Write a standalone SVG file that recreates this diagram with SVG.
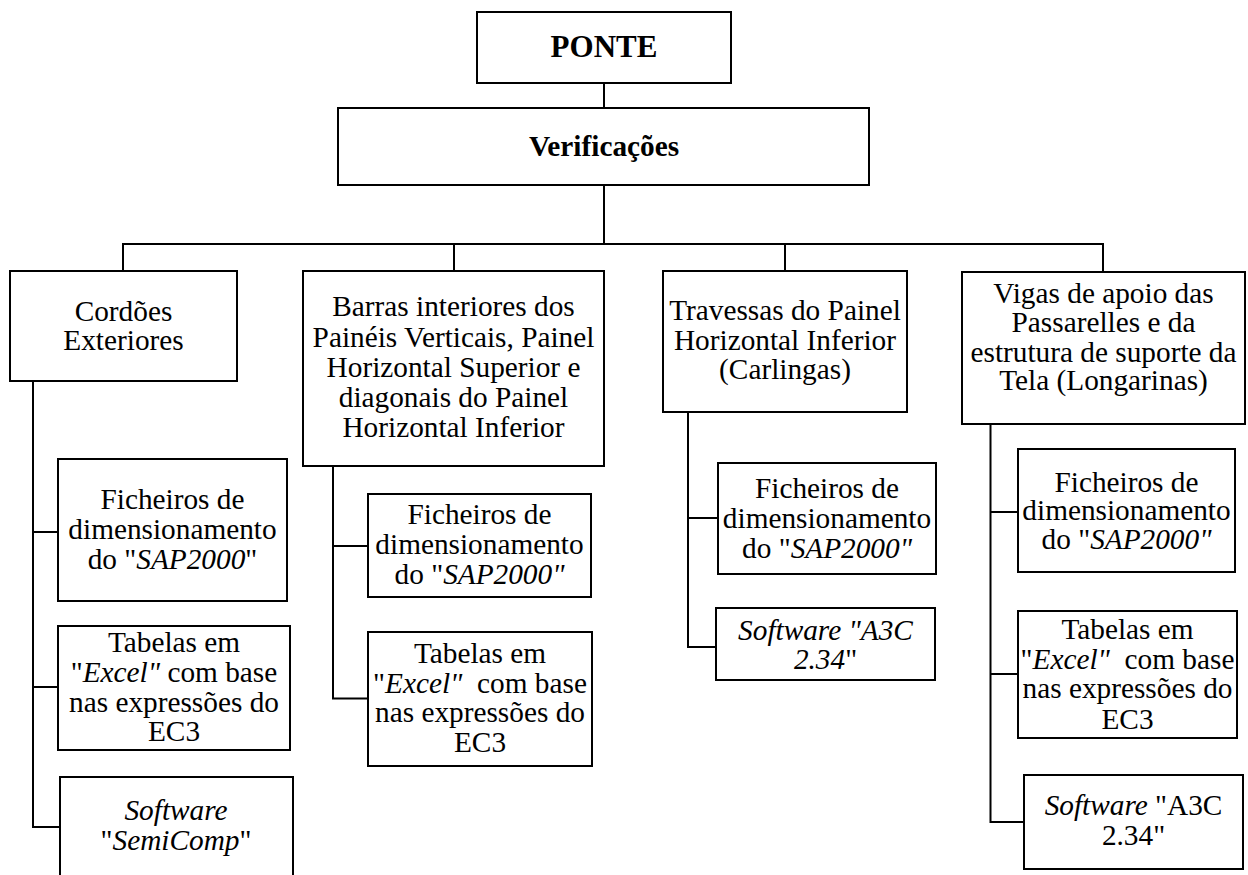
<svg xmlns="http://www.w3.org/2000/svg" width="1248" height="875" viewBox="0 0 1248 875">
<style>
rect.box{fill:#fff;stroke:#000;stroke-width:2}
.conn line,.conn polyline{stroke:#000;stroke-width:2;fill:none}
text{font-size:29.3px;fill:#000;text-anchor:middle}
text.b{font-weight:bold}
.i{font-style:italic}
</style>
<rect width="1248" height="875" fill="#fff"/>
<g class="conn" id="connectors">
<line x1="604" y1="83" x2="604" y2="108"/>
<line x1="604" y1="185" x2="604" y2="244"/>
<line x1="122" y1="244" x2="1104" y2="244"/>
<line x1="123" y1="244" x2="123" y2="271"/>
<line x1="454" y1="244" x2="454" y2="271"/>
<line x1="785" y1="244" x2="785" y2="271"/>
<line x1="1103" y1="244" x2="1103" y2="272"/>
<polyline points="33,381 33,827 60,827"/>
<line x1="33" y1="532" x2="58" y2="532"/>
<line x1="33" y1="687" x2="58" y2="687"/>
<polyline points="333,466 333,698.5 368,698.5"/>
<line x1="333" y1="546" x2="368" y2="546"/>
<polyline points="688,412 688,647 716,647"/>
<line x1="688" y1="518" x2="718" y2="518"/>
<polyline points="990.5,424 990.5,822 1024,822"/>
<line x1="990.5" y1="512" x2="1018" y2="512"/>
<line x1="990.5" y1="674" x2="1018" y2="674"/>
</g>
<g font-family="'Liberation Serif', 'Times New Roman', Times, 'DejaVu Serif', serif">
<g id="ponte"><rect class="box" x="477" y="12" width="254" height="71"/><text class="b" x="604" y="57" style="font-size:31px">PONTE</text></g>
<g id="verificacoes"><rect class="box" x="338" y="108" width="531" height="77"/><text class="b" x="604" y="156">Verificações</text></g>
<g id="cordoes"><rect class="box" x="10" y="271" width="227" height="110"/>
<text x="123.5" y="321">Cordões</text><text x="123.5" y="350">Exteriores</text></g>
<g id="c1-ficheiros"><rect class="box" x="58" y="459" width="229" height="142"/>
<text x="172.5" y="509">Ficheiros de</text><text x="172.5" y="539">dimensionamento</text><text x="172.5" y="569">do "<tspan class="i">SAP2000</tspan>"</text></g>
<g id="c1-tabelas"><rect class="box" x="58" y="626" width="232" height="124"/>
<text x="174" y="652">Tabelas em</text><text x="174" y="682">"<tspan class="i">Excel"</tspan> com base</text><text x="174" y="711.5">nas expressões do</text><text x="174" y="741">EC3</text></g>
<g id="c1-software"><rect class="box" x="60" y="777" width="233" height="110"/>
<text x="176" y="820" class="i">Software</text><text x="176" y="850">"<tspan class="i">SemiComp</tspan>"</text></g>
<g id="barras"><rect class="box" x="303" y="271" width="301" height="195"/>
<text x="453.5" y="316">Barras interiores dos</text><text x="453.5" y="347">Painéis Verticais, Painel</text><text x="453.5" y="377">Horizontal Superior e</text><text x="453.5" y="407">diagonais do Painel</text><text x="453.5" y="437">Horizontal Inferior</text></g>
<g id="c2-ficheiros"><rect class="box" x="368" y="494" width="223" height="103"/>
<text x="479.5" y="523.5">Ficheiros de</text><text x="479.5" y="553.5">dimensionamento</text><text x="479.5" y="583.5">do "<tspan class="i">SAP2000"</tspan></text></g>
<g id="c2-tabelas"><rect class="box" x="368" y="632" width="224" height="134"/>
<text x="480" y="662.5">Tabelas em</text><text x="480" y="692.5" xml:space="preserve">"<tspan class="i">Excel"</tspan>  com base</text><text x="480" y="722">nas expressões do</text><text x="480" y="752">EC3</text></g>
<g id="travessas"><rect class="box" x="663" y="271" width="244" height="141"/>
<text x="785" y="320">Travessas do Painel</text><text x="785" y="349.5">Horizontal Inferior</text><text x="785" y="378.5">(Carlingas)</text></g>
<g id="c3-ficheiros"><rect class="box" x="718" y="463" width="218" height="111"/>
<text x="827" y="498">Ficheiros de</text><text x="827" y="528">dimensionamento</text><text x="827" y="557.5">do "<tspan class="i">SAP2000"</tspan></text></g>
<g id="c3-software"><rect class="box" x="716" y="608" width="219" height="72"/>
<text x="825.5" y="640" class="i">Software "A3C</text><text x="825.5" y="668.5"><tspan class="i">2.34</tspan>"</text></g>
<g id="vigas"><rect class="box" x="962" y="272" width="283" height="152"/>
<text x="1103.5" y="303">Vigas de apoio das</text><text x="1103.5" y="332">Passarelles e da</text><text x="1103.5" y="361.5">estrutura de suporte da</text><text x="1103.5" y="390">Tela (Longarinas)</text></g>
<g id="c4-ficheiros"><rect class="box" x="1018" y="449" width="217" height="123"/>
<text x="1126.5" y="492">Ficheiros de</text><text x="1126.5" y="520">dimensionamento</text><text x="1126.5" y="548.5">do "<tspan class="i">SAP2000"</tspan></text></g>
<g id="c4-tabelas"><rect class="box" x="1018" y="611" width="219" height="127"/>
<text x="1127.5" y="638.5">Tabelas em</text><text x="1127.5" y="668.5" xml:space="preserve">"<tspan class="i">Excel"</tspan>  com base</text><text x="1127.5" y="698">nas expressões do</text><text x="1127.5" y="729">EC3</text></g>
<g id="c4-software"><rect class="box" x="1024" y="775" width="219" height="94"/>
<text x="1133.5" y="815"><tspan class="i">Software</tspan> "A3C</text><text x="1133.5" y="845">2.34"</text></g>
</g>
</svg>
